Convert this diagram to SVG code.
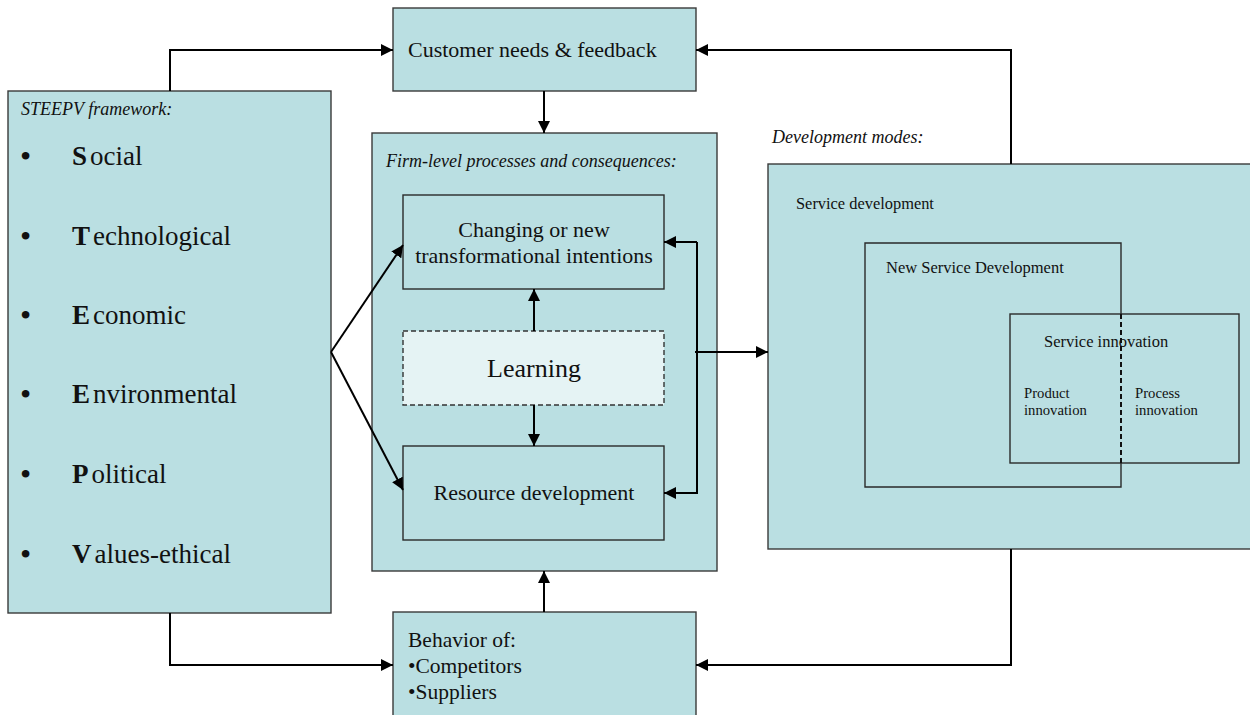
<svg xmlns="http://www.w3.org/2000/svg" width="1250" height="715" viewBox="0 0 1250 715">
<style>
.box{fill:#badfe2;stroke:#3a3a3a;stroke-width:1.4}
.inner{fill:none;stroke:#2a2a2a;stroke-width:1.4}
.t{font-family:"Liberation Serif","Times New Roman",serif;fill:#111}
.it{font-style:italic}
.con{fill:none;stroke:#000;stroke-width:2}
.bul{font-size:32px}
</style>
<defs>
<marker id="ah" viewBox="0 0 10 10" refX="10" refY="5" markerWidth="6" markerHeight="6" orient="auto" markerUnits="strokeWidth">
<path d="M0,0 L10,5 L0,10 z" fill="#000"/>
</marker>
</defs>
<rect width="1250" height="715" fill="#fff"/>

<g id="steepv">
<rect class="box" x="8" y="91" width="323" height="522"/>
<text class="t it" x="21" y="115" font-size="18">STEEPV framework:</text>
<g class="t" font-size="27">
<text class="bul" x="20" y="167">•</text><text x="72" y="165"><tspan font-weight="bold">S</tspan><tspan dx="3">ocial</tspan></text>
<text class="bul" x="20" y="247">•</text><text x="72" y="245"><tspan font-weight="bold">T</tspan><tspan dx="3">echnological</tspan></text>
<text class="bul" x="20" y="326">•</text><text x="72" y="324"><tspan font-weight="bold">E</tspan><tspan dx="3">conomic</tspan></text>
<text class="bul" x="20" y="405">•</text><text x="72" y="403"><tspan font-weight="bold">E</tspan><tspan dx="3">nvironmental</tspan></text>
<text class="bul" x="20" y="485">•</text><text x="72" y="483"><tspan font-weight="bold">P</tspan><tspan dx="3">olitical</tspan></text>
<text class="bul" x="20" y="565">•</text><text x="72" y="563"><tspan font-weight="bold">V</tspan><tspan dx="3">alues-ethical</tspan></text>
</g>
</g>

<g id="customer">
<rect class="box" x="393" y="8" width="303" height="83"/>
<text class="t" x="408" y="57" font-size="22">Customer needs &amp; feedback</text>
</g>

<g id="firm">
<rect class="box" x="372" y="133" width="345" height="438"/>
<text class="t it" x="386" y="167" font-size="18">Firm-level processes and consequences:</text>
</g>

<g id="changing">
<rect class="inner" x="403" y="195" width="261" height="94"/>
<text class="t" x="534" y="237" font-size="22" text-anchor="middle">Changing or new</text>
<text class="t" x="534" y="263" font-size="22" text-anchor="middle">transformational intentions</text>
</g>

<g id="learning">
<rect x="403" y="331" width="261" height="74" fill="#e5f3f4" stroke="#333" stroke-width="1.4" stroke-dasharray="5,3"/>
<text class="t" x="534" y="377" font-size="26" text-anchor="middle">Learning</text>
</g>

<g id="resource">
<rect class="inner" x="403" y="446" width="261" height="94"/>
<text class="t" x="534" y="500" font-size="22" text-anchor="middle">Resource development</text>
</g>

<g id="devmodes">
<text class="t it" x="772" y="143" font-size="18">Development modes:</text>
<rect class="box" x="768" y="164" width="490" height="385"/>
<text class="t" x="796" y="209" font-size="16.4">Service development</text>
</g>

<g id="nsd">
<path class="inner" d="M1121,314 L1121,243 L865,243 L865,487 L1121,487 L1121,463"/>
<text class="t" x="886" y="273" font-size="16.5">New Service Development</text>
</g>

<g id="serviceinnovation">
<rect class="inner" x="1010" y="314" width="229" height="149"/>
<line x1="1121" y1="314" x2="1121" y2="463" stroke="#111" stroke-width="2" stroke-dasharray="5,3"/>
<text class="t" x="1044" y="347" font-size="16.5">Service innovation</text>
<text class="t" x="1024" y="398" font-size="14.7">Product</text>
<text class="t" x="1024" y="415" font-size="14.7">innovation</text>
<text class="t" x="1135" y="398" font-size="14.7">Process</text>
<text class="t" x="1135" y="415" font-size="14.7">innovation</text>
</g>

<g id="behavior">
<rect class="box" x="393" y="612" width="303" height="110"/>
<text class="t" x="408" y="647" font-size="21.5">Behavior of:</text>
<text class="t" x="408" y="673" font-size="21.5">•Competitors</text>
<text class="t" x="408" y="699" font-size="21.5">•Suppliers</text>
</g>

<g id="connectors">
<path class="con" d="M170,91 L170,50 L393,50" marker-end="url(#ah)"/>
<path class="con" d="M1011,164 L1011,50 L696,50" marker-end="url(#ah)"/>
<path class="con" d="M544,91 L544,133" marker-end="url(#ah)"/>
<path class="con" d="M170,613 L170,665 L393,665" marker-end="url(#ah)"/>
<path class="con" d="M1011,549 L1011,665 L696,665" marker-end="url(#ah)"/>
<path class="con" d="M544,612 L544,571" marker-end="url(#ah)"/>
<path class="con" d="M331,352 L403,245" marker-end="url(#ah)"/>
<path class="con" d="M331,352 L403,490" marker-end="url(#ah)"/>
<path class="con" d="M534,331 L534,289" marker-end="url(#ah)"/>
<path class="con" d="M534,405 L534,446" marker-end="url(#ah)"/>
<path class="con" d="M697,242 L664,242" marker-end="url(#ah)"/>
<path class="con" d="M697,242 L697,493 L664,493" marker-end="url(#ah)"/>
<path class="con" d="M695,352 L768,352" marker-end="url(#ah)"/>
</g>
</svg>
